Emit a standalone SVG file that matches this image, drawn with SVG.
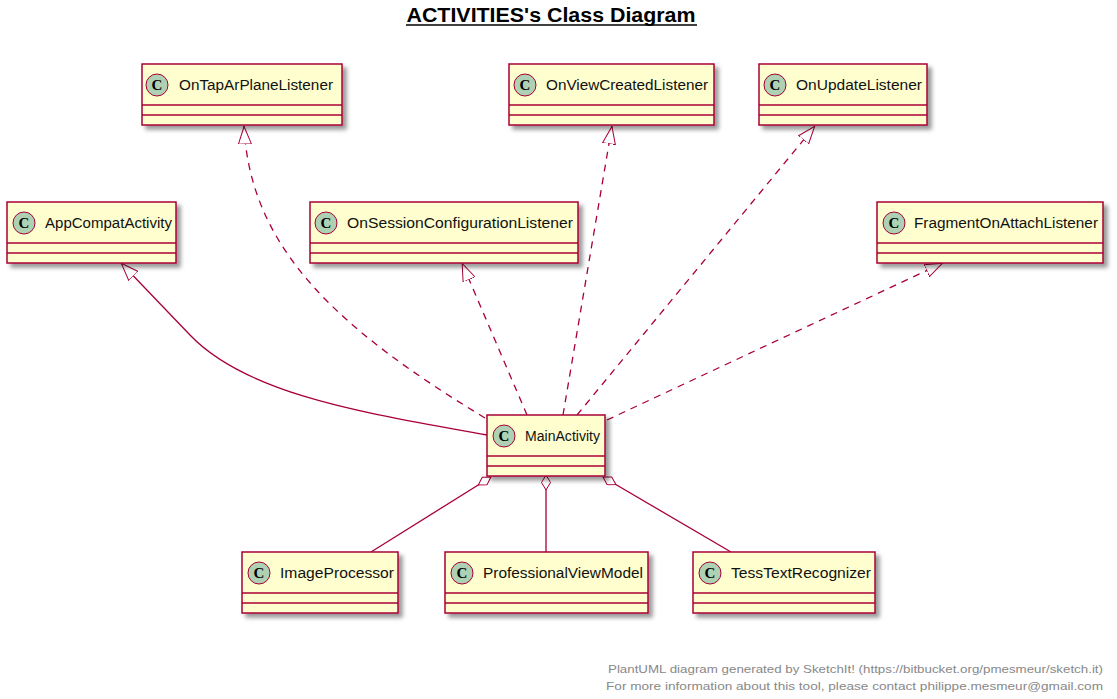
<svg xmlns="http://www.w3.org/2000/svg" width="1117" height="699" viewBox="0 0 1117 699">
<style>
.box{fill:#FEFECE;stroke:#A80036;stroke-width:1.5}
.sep{stroke:#A80036;stroke-width:1.5}
.circ{fill:#ADD1B2;stroke:#A80036;stroke-width:1}
.cl{font-family:"Liberation Serif",serif;font-weight:bold;font-size:15px;fill:#000;text-anchor:middle}
.nm{font-family:"Liberation Sans",Arial,sans-serif;font-size:14px;fill:#111}
.edge{fill:none;stroke:#A80036;stroke-width:1.3}
.dash{stroke-dasharray:7,6}
.foot{font-family:"Liberation Sans",Arial,sans-serif;font-size:11px;fill:#888888}
</style>
<defs>
<filter id="sh" x="-10%" y="-10%" width="130%" height="140%">
<feGaussianBlur in="SourceAlpha" stdDeviation="2" result="b"/>
<feColorMatrix in="b" type="matrix" values="0 0 0 0 0 0 0 0 0 0 0 0 0 0 0 0 0 0 .4 0" result="b2"/>
<feOffset in="b2" dx="4" dy="4" result="b3"/>
<feBlend in="SourceGraphic" in2="b3" mode="normal"/>
</filter>
<marker id="tri" viewBox="0 0 18 14" refX="18" refY="7" markerWidth="18" markerHeight="14" markerUnits="userSpaceOnUse" orient="auto">
<path d="M0,0.5 L17.5,7 L0,13.5 Z" fill="#FFFFFF" stroke="#A80036" stroke-width="1"/>
</marker>
<marker id="dia" viewBox="0 0 16 10" refX="0.5" refY="5" markerWidth="16" markerHeight="10" markerUnits="userSpaceOnUse" orient="auto">
<path d="M0.5,5 L8,0.5 L15.5,5 L8,9.5 Z" fill="#FFFFFF" stroke="#A80036" stroke-width="1"/>
</marker>
</defs>
<rect width="1117" height="699" fill="#FFFFFF"/>
<g id="title">
<text x="551" y="22" font-family="Liberation Sans,Arial,sans-serif" font-weight="bold" font-size="20" text-anchor="middle" textLength="289" lengthAdjust="spacingAndGlyphs">ACTIVITIES's Class Diagram</text>
<line x1="406" y1="25" x2="697" y2="25" stroke="#000" stroke-width="1.5"/>
</g>
<g id="connectors">
<path class="edge" d="M487,435 C380,415 250,398 190,335 L121,263" marker-end="url(#tri)"/>
<path class="edge dash" d="M485,418 C340,330 250,250 244,126" marker-end="url(#tri)"/>
<path class="edge dash" d="M527,415 L462,263" marker-end="url(#tri)"/>
<path class="edge dash" d="M563,415 L612,126" marker-end="url(#tri)"/>
<path class="edge dash" d="M577,415 L815,126" marker-end="url(#tri)"/>
<path class="edge dash" d="M607,420 L943,263" marker-end="url(#tri)"/>
<path class="edge" d="M491,477 L371,552" marker-start="url(#dia)"/>
<path class="edge" d="M546,475 L546,552" marker-start="url(#dia)"/>
<path class="edge" d="M603,477 L731,552" marker-start="url(#dia)"/>
</g>
<g id="OnTapArPlaneListener">
<rect class="box" x="142" y="64" width="200" height="61" filter="url(#sh)"/>
<line class="sep" x1="142" y1="105" x2="342" y2="105"/><line class="sep" x1="142" y1="115" x2="342" y2="115"/>
<circle class="circ" cx="157" cy="85" r="11"/><text class="cl" x="157" y="90">C</text>
<text class="nm" x="179" y="90" textLength="154" lengthAdjust="spacingAndGlyphs">OnTapArPlaneListener</text>
</g>
<g id="OnViewCreatedListener">
<rect class="box" x="509" y="64" width="205" height="61" filter="url(#sh)"/>
<line class="sep" x1="509" y1="105" x2="714" y2="105"/><line class="sep" x1="509" y1="115" x2="714" y2="115"/>
<circle class="circ" cx="525" cy="85" r="11"/><text class="cl" x="525" y="90">C</text>
<text class="nm" x="546" y="90" textLength="162" lengthAdjust="spacingAndGlyphs">OnViewCreatedListener</text>
</g>
<g id="OnUpdateListener">
<rect class="box" x="759" y="64" width="168" height="61" filter="url(#sh)"/>
<line class="sep" x1="759" y1="105" x2="927" y2="105"/><line class="sep" x1="759" y1="115" x2="927" y2="115"/>
<circle class="circ" cx="775" cy="85" r="11"/><text class="cl" x="775" y="90">C</text>
<text class="nm" x="796" y="90" textLength="126" lengthAdjust="spacingAndGlyphs">OnUpdateListener</text>
</g>
<g id="AppCompatActivity">
<rect class="box" x="7" y="202" width="169" height="61" filter="url(#sh)"/>
<line class="sep" x1="7" y1="243" x2="176" y2="243"/><line class="sep" x1="7" y1="253" x2="176" y2="253"/>
<circle class="circ" cx="24" cy="223" r="11"/><text class="cl" x="24" y="228">C</text>
<text class="nm" x="45" y="228" textLength="127" lengthAdjust="spacingAndGlyphs">AppCompatActivity</text>
</g>
<g id="OnSessionConfigurationListener">
<rect class="box" x="310" y="202" width="268" height="61" filter="url(#sh)"/>
<line class="sep" x1="310" y1="243" x2="578" y2="243"/><line class="sep" x1="310" y1="253" x2="578" y2="253"/>
<circle class="circ" cx="326" cy="223" r="11"/><text class="cl" x="326" y="228">C</text>
<text class="nm" x="347" y="228" textLength="226" lengthAdjust="spacingAndGlyphs">OnSessionConfigurationListener</text>
</g>
<g id="FragmentOnAttachListener">
<rect class="box" x="877" y="202" width="226" height="61" filter="url(#sh)"/>
<line class="sep" x1="877" y1="243" x2="1103" y2="243"/><line class="sep" x1="877" y1="253" x2="1103" y2="253"/>
<circle class="circ" cx="894" cy="223" r="11"/><text class="cl" x="894" y="228">C</text>
<text class="nm" x="914" y="228" textLength="184" lengthAdjust="spacingAndGlyphs">FragmentOnAttachListener</text>
</g>
<g id="MainActivity">
<rect class="box" x="487" y="415" width="118" height="61" filter="url(#sh)"/>
<line class="sep" x1="487" y1="456" x2="605" y2="456"/><line class="sep" x1="487" y1="466" x2="605" y2="466"/>
<circle class="circ" cx="504" cy="436" r="11"/><text class="cl" x="504" y="441">C</text>
<text class="nm" x="525" y="441" textLength="75" lengthAdjust="spacingAndGlyphs">MainActivity</text>
</g>
<g id="ImageProcessor">
<rect class="box" x="242" y="552" width="156" height="61" filter="url(#sh)"/>
<line class="sep" x1="242" y1="593" x2="398" y2="593"/><line class="sep" x1="242" y1="603" x2="398" y2="603"/>
<circle class="circ" cx="259" cy="573" r="11"/><text class="cl" x="259" y="578">C</text>
<text class="nm" x="280" y="578" textLength="114" lengthAdjust="spacingAndGlyphs">ImageProcessor</text>
</g>
<g id="ProfessionalViewModel">
<rect class="box" x="445" y="552" width="203" height="61" filter="url(#sh)"/>
<line class="sep" x1="445" y1="593" x2="648" y2="593"/><line class="sep" x1="445" y1="603" x2="648" y2="603"/>
<circle class="circ" cx="462" cy="573" r="11"/><text class="cl" x="462" y="578">C</text>
<text class="nm" x="483" y="578" textLength="160" lengthAdjust="spacingAndGlyphs">ProfessionalViewModel</text>
</g>
<g id="TessTextRecognizer">
<rect class="box" x="693" y="552" width="182" height="61" filter="url(#sh)"/>
<line class="sep" x1="693" y1="593" x2="875" y2="593"/><line class="sep" x1="693" y1="603" x2="875" y2="603"/>
<circle class="circ" cx="710" cy="573" r="11"/><text class="cl" x="710" y="578">C</text>
<text class="nm" x="731" y="578" textLength="140" lengthAdjust="spacingAndGlyphs">TessTextRecognizer</text>
</g>
<g id="footer">
<text class="foot" x="608" y="673" textLength="495" lengthAdjust="spacingAndGlyphs">PlantUML diagram generated by SketchIt! (https://bitbucket.org/pmesmeur/sketch.it)</text>
<text class="foot" x="606" y="690" textLength="497" lengthAdjust="spacingAndGlyphs">For more information about this tool, please contact philippe.mesmeur@gmail.com</text>
</g>
</svg>
